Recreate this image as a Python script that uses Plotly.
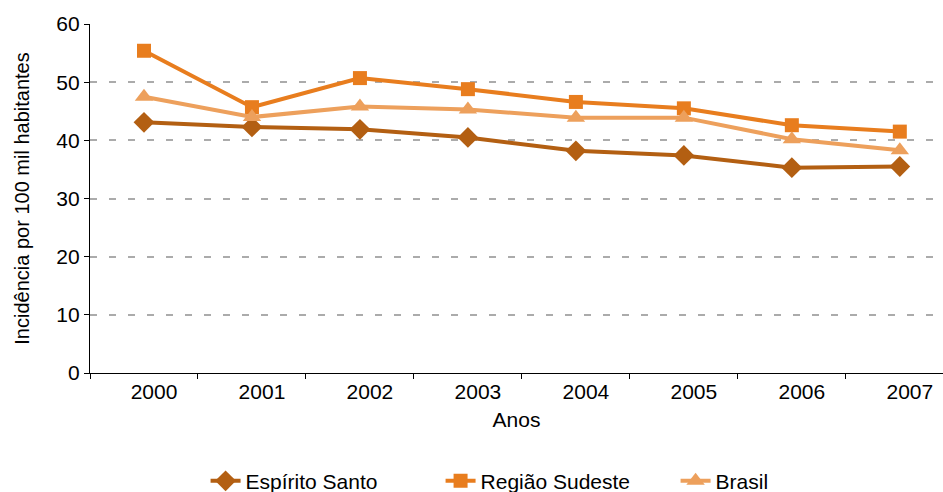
import plotly.graph_objects as go

anos = ["2000", "2001", "2002", "2003", "2004", "2005", "2006", "2007"]
espirito_santo = [43.1, 42.3, 41.9, 40.5, 38.2, 37.4, 35.3, 35.5]
regiao_sudeste = [55.4, 45.7, 50.7, 48.8, 46.6, 45.5, 42.6, 41.5]
brasil = [47.5, 44.0, 45.8, 45.3, 43.9, 43.9, 40.2, 38.3]

series = [
    ("Espírito Santo", espirito_santo, "#B35F12", "diamond", 16),
    ("Região Sudeste", regiao_sudeste, "#E87D1E", "square", 14),
    ("Brasil", brasil, "#EDA05C", "triangle-up", 16),
]

font = "Liberation Sans, Arial, sans-serif"

fig = go.Figure()
for name, vals, color, symbol, size in series:
    fig.add_trace(go.Scatter(
        x=anos, y=vals, name=name, mode="lines+markers",
        line=dict(color=color, width=4),
        marker=dict(symbol=symbol, size=size, color=color),
        cliponaxis=False,
    ))

fig.update_layout(
    width=943, height=492,
    margin=dict(l=90, r=0, t=24, b=119, autoexpand=False),
    paper_bgcolor="white", plot_bgcolor="white",
    font=dict(family=font, size=21, color="#000000"),
    showlegend=True,
    legend=dict(
        orientation="h", xref="container", x=0.218, xanchor="left",
        yref="container", y=0.022, yanchor="middle",
        font=dict(size=21), tracegroupgap=0,
        entrywidth=190, entrywidthmode="pixels",
    ),
    xaxis=dict(
        type="category", range=[-0.5, 7.4], automargin=False,
        showline=True, linecolor="#000000", linewidth=1.3,
        ticks="outside", tickson="boundaries", ticklen=5, tickcolor="#000000",
        showgrid=False, zeroline=False,
        ticklabelshift=10, ticklabelstandoff=0,
        title=dict(text="Anos", font=dict(size=21), standoff=9),
    ),
    yaxis=dict(
        range=[0, 60], dtick=10, automargin=False,
        showline=True, linecolor="#000000", linewidth=1.3,
        ticks="outside", ticklen=5, tickcolor="#000000",
        showgrid=True, gridcolor="#ABABAB", griddash="7px,12px", gridwidth=1.6,
        zeroline=False,
        title=dict(text="Incidência por 100 mil habitantes", font=dict(size=20), standoff=21),
    ),
)

fig.write_html("out.html")
